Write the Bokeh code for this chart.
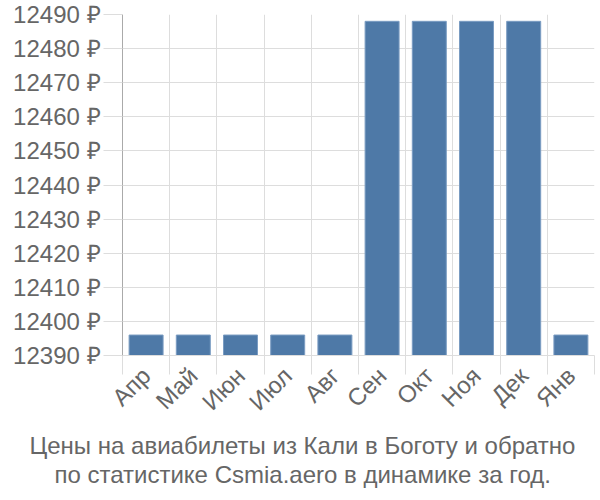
import math
from bokeh.plotting import figure
from bokeh.models import Range1d, FixedTicker, Title
from bokeh.embed import file_html
from bokeh.resources import INLINE

months = ["Апр", "Май", "Июн", "Июл", "Авг", "Сен", "Окт", "Ноя", "Дек", "Янв"]
prices = [12396, 12396, 12396, 12396, 12396, 12488, 12488, 12488, 12488, 12396]
y_ticks = [12390, 12400, 12410, 12420, 12430, 12440, 12450, 12460, 12470, 12480, 12490]
y_min, y_max = 12390, 12490
title_lines = ["Цены на авиабилеты из Кали в Боготу и обратно",
               "по статистике Csmia.aero в динамике за год."]

FONT = "Liberation Sans"
TXT = "#666666"
GRID = "#dddddd"

n = len(months)
centers = [i + 0.5 for i in range(n)]
bounds = list(range(n + 1))

p = figure(width=600, height=500, output_backend="svg", toolbar_location=None,
           x_range=Range1d(0, n), y_range=Range1d(y_min, y_max),
           min_border_left=122, min_border_right=6, min_border_top=14,
           min_border_bottom=145)
p.outline_line_color = None
p.background_fill_color = "white"

p.vbar(x=centers, top=prices, bottom=y_min, width=0.72,
       fill_color="#4e79a7", line_color="#7a9cc2", line_width=1)

# y axis
yax = p.yaxis[0]
yax.ticker = FixedTicker(ticks=y_ticks, minor_ticks=[])
yax.major_label_overrides = {t: f"{t} ₽" for t in y_ticks}
yax.major_tick_out = 19
yax.major_tick_in = 0
yax.major_tick_line_color = GRID
yax.minor_tick_line_color = None
yax.axis_line_color = "#aaaaaa"
yax.major_label_standoff = 3
yax.major_label_text_font = FONT
yax.major_label_text_font_size = "24px"
yax.major_label_text_color = TXT

# x axis
xax = p.xaxis[0]
xax.ticker = FixedTicker(ticks=centers, minor_ticks=bounds)
xax.major_label_overrides = {c: m for c, m in zip(centers, months)}
xax.major_tick_line_color = None
xax.major_tick_out = 0
xax.major_tick_in = 0
xax.minor_tick_out = 19
xax.minor_tick_in = 0
xax.minor_tick_line_color = GRID
xax.axis_line_color = GRID
xax.major_label_orientation = math.pi / 4
xax.major_label_standoff = -3
xax.major_label_text_font = FONT
xax.major_label_text_font_size = "24px"
xax.major_label_text_color = TXT

p.xgrid.ticker = FixedTicker(ticks=bounds)
p.xgrid.grid_line_color = GRID
p.ygrid.ticker = FixedTicker(ticks=y_ticks)
p.ygrid.grid_line_color = GRID

title_offsets = [-93, -68]
title_standoffs = [2, -2]
for line, off, so in zip(title_lines, title_offsets, title_standoffs):
    t = Title(text=line, align="left", offset=off, text_font=FONT,
              text_font_size="24px", text_font_style="normal",
              text_color=TXT, standoff=so)
    p.add_layout(t, "below")

open("out.html", "w").write(file_html(p, INLINE))
